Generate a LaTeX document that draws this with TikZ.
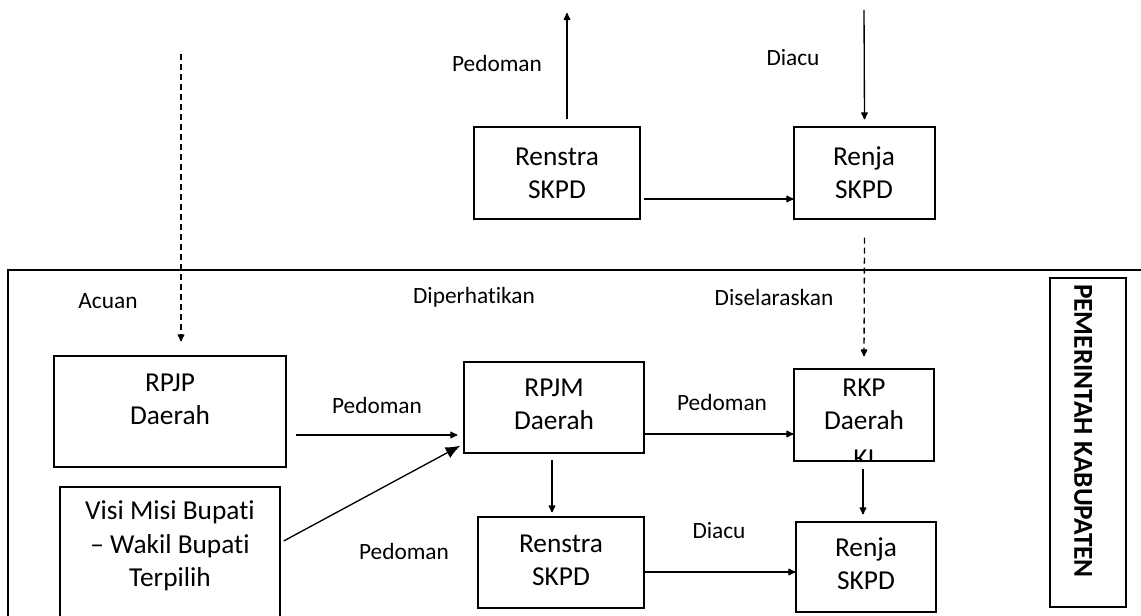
\documentclass[tikz,border=0pt]{standalone}
\usepackage{fontspec}
\setmainfont{Carlito}[Ligatures=NoCommon]
\usetikzlibrary{arrows.meta,calc,fit}
\begin{document}
\begin{tikzpicture}[x=0.75pt,y=-0.75pt,
  box/.style={draw,line width=1pt,inner sep=0pt},
  btext/.style={font=\fontsize{20.5pt}{25pt}\selectfont,align=center,inner sep=0pt},
  lbl/.style={font=\fontsize{17.5pt}{21pt}\selectfont,inner sep=0pt},
  arr/.style={line width=1pt,-{Latex[round,length=6.5pt,width=6pt]}},
  darr/.style={line width=1pt,dash pattern=on 4.5pt off 3pt,-{Latex[round,length=6.5pt,width=6pt]}},
  tarr/.style={line width=1pt,-{Latex[length=11pt,width=9pt]}}]
\clip (0,0) rectangle (1141,616);
\fill[white] (0,0) rectangle (1141,616);
% frame
\draw[line width=1pt] (8,640) -- (8,270) -- (1141,270);
% boxes
\node[box,fit={(474,127) (640,219)}] (renstraA) {};
\node[box,fit={(794,127) (935,219)}] (renjaA) {};
\node[box,fit={(54,356) (286,467)}] (rpjp) {};
\node[box,fit={(60,487) (280,640)}] (visi) {};
\node[box,fit={(464,362) (644,453)}] (rpjm) {};
\node[box,fit={(478,517) (644,608)}] (renstraB) {};
\node[box,fit={(794,369) (934,461)}] (rkp) {};
\node[box,fit={(796,522) (936,612)}] (renjaB) {};
\node[box,fit={(1050,278) (1126,607)}] (pemkab) {};
% box texts
\node[btext] (tRenstraA) at (557,173) {Renstra\\SKPD};
\node[btext] (tRenjaA) at (864,173) {Renja\\SKPD};
\node[btext] (tRpjp) at (170,399) {RPJP\\Daerah};
\node[btext] (tVisi) at (170,546) {Visi Misi Bupati\\– Wakil Bupati\\Terpilih};
\node[btext] (tRpjm) at (554,404) {RPJM\\Daerah};
\node[btext] (tRenstraB) at (561,560) {Renstra\\SKPD};
\node[btext] (tRkp) at (864,404) {RKP\\Daerah};
\begin{scope}
\clip (794,369) rectangle (934,461);
\node[btext] (tKi) at (864,459) {KI};
\end{scope}
\node[btext] (tRenjaB) at (866,564) {Renja\\SKPD};
\node[font=\fontsize{20.5pt}{25pt}\selectfont\bfseries,rotate=-90,inner sep=0pt] (tPem) at (1083,431) {PEMERINTAH KABUPATEN};
% labels
\node[lbl] (l1) at (497,63) {Pedoman};
\node[lbl] (l2) at (793,58) {Diacu};
\node[lbl] (l3) at (108,301) {Acuan};
\node[lbl] (l4) at (474,297) {Diperhatikan};
\node[lbl] (l5) at (774,297) {Diselaraskan};
\node[lbl] (l6) at (377,405) {Pedoman};
\node[lbl] (l7) at (722,402) {Pedoman};
\node[lbl] (l8) at (404,551) {Pedoman};
\node[lbl] (l9) at (719,531) {Diacu};
% free ends
\coordinate (topL) at (567,13);
\coordinate (topR) at (864,10);
\coordinate (dashL) at (181,54);
% connectors
\draw[arr] ($(renstraA.north)+(10,-7)$) -- (topL);
\draw[arr] (topR) -- ($(renjaA.north)+(0,-7)$);
\draw[arr] ($(renstraA.east)+(3,26)$) -- ($(renjaA.west)+(0,26)$);
\draw[darr] ($(renjaA.south)+(0,18)$) -- ($(rkp.north)+(0,-12)$);
\draw[darr] (dashL) -- ($(rpjp.north)+(11,-14)$);
\draw[arr] ($(rpjp.east)+(9,23.5)$) -- ($(rpjm.west)+(-6,27.5)$);
\draw[tarr] ($(visi.east)+(3,-22.5)$) -- ($(rpjm.south west)+(-3,-8)$);
\draw[arr] ($(rpjm.east)+(0,26.5)$) -- ($(rkp.west)+(0,19)$);
\draw[arr] ($(rpjm.south)+(-2,6)$) -- ($(renstraB.north)+(-9,-4)$);
\draw[arr] ($(renstraB.east)+(0,9.5)$) -- ($(renjaB.west)+(0,5)$);
\draw[arr] ($(rkp.south)+(-1,7)$) -- ($(renjaB.north)+(-3,-7)$);
\end{tikzpicture}
\end{document}
